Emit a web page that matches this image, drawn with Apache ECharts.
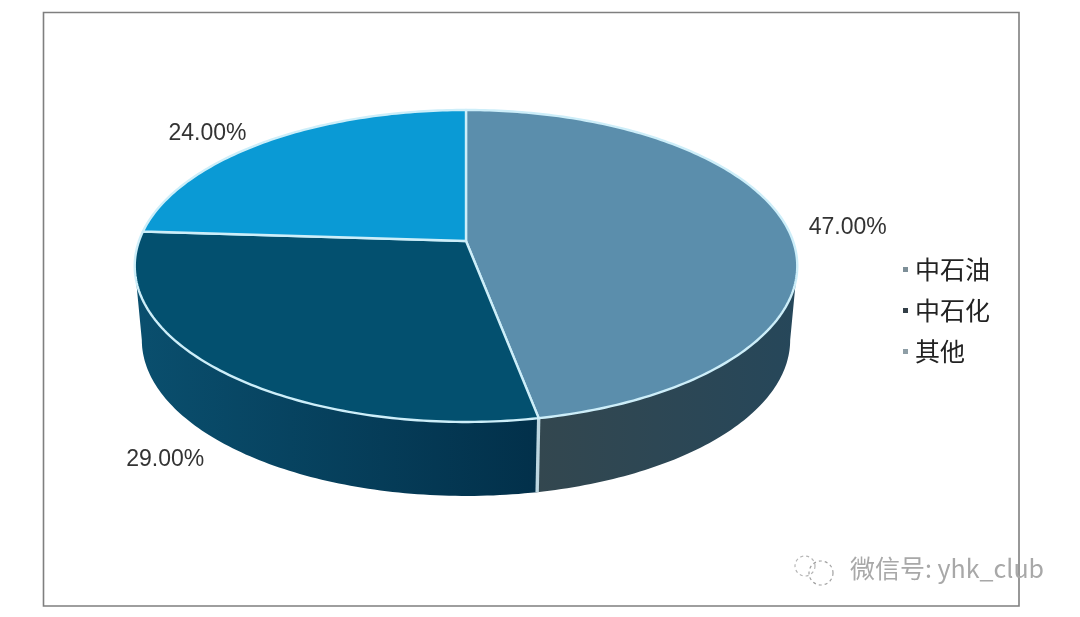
<!DOCTYPE html>
<html><head><meta charset="utf-8">
<style>html,body{margin:0;padding:0;background:#fff}#c{width:1080px;height:617px}</style>
<script src="https://cdn.jsdelivr.net/npm/echarts@6/dist/echarts.min.js"></script>
</head><body><div id="c"></div>
<script>
const categories = ['中石油', '中石化', '其他'];
const shares = [47, 29, 24];
const topColors = ['#5b8eac', '#03506f', '#0a9ad5'];
const wallLeftColors = ['#33474f', '#0a4f6e', '#0a4f6e'];
const wallRightColors = ['#26475a', '#02304a', '#02304a'];
const legendColors = ['#7d8f98', '#333f47', '#8e9ea6'];
const labelNudges = [[61, 1], [-55, 89], [-58, -8]];

const TOP = {cx: 466, cy: 241, rx: 327, ry: 152, p: 0.16};
const BASE = {cx: 466, cy: 315, rx: 320, ry: 152, p: 0.16};
const total = shares.reduce((a, b) => a + b, 0);
// Clock angles (from 12 o'clock) where the rim turns from the back of the disc to the front.
const frontStart = Math.PI - Math.acos(TOP.p);
const frontEnd = Math.PI + Math.acos(TOP.p);

function project(d, theta) {
  const x = Math.sin(theta), y = -Math.cos(theta), w = 1 - d.p * y;
  return [d.cx + d.rx * x / w, d.cy + d.ry * y / w];
}
function arc(d, a, b) {
  const n = Math.max(2, Math.ceil(Math.abs(b - a) * 60)), pts = [];
  for (let i = 0; i <= n; i++) pts.push(project(d, a + (b - a) * i / n));
  return pts;
}
function sliceRange(i) {
  let s = 0;
  for (let k = 0; k < i; k++) s += shares[k];
  return [s / total * 2 * Math.PI, (s + shares[i]) / total * 2 * Math.PI];
}
const RIM = '#cdeef9';
function renderSlice(i) {
  return function (params, api) {
    const [a, b] = sliceRange(i);
    const topArc = arc(TOP, a, b);
    const mid = project(TOP, (a + b) / 2);
    const children = [
      {type: 'polygon', z2: 10, shape: {points: [[TOP.cx, TOP.cy]].concat(topArc)},
       style: {fill: topColors[i], stroke: RIM, lineWidth: 2.4, lineJoin: 'round'}},
      {type: 'text', z2: 20, x: mid[0] + labelNudges[i][0], y: mid[1] + labelNudges[i][1],
       style: {text: api.value(0).toFixed(2) + '%', fill: '#333', font: '23px "Liberation Sans"', align: 'center', verticalAlign: 'middle'}}
    ];
    const wa = Math.max(a, frontStart), wb = Math.min(b, frontEnd);
    if (wb > wa) {
      children.push({type: 'polygon', z2: 1, shape: {points: arc(TOP, wa, wb).concat(arc(BASE, wa, wb).reverse())},
        style: {fill: {type: 'linear', x: 0, y: 0, x2: 1, y2: 0, colorStops: [
          {offset: 0, color: wallLeftColors[i]}, {offset: 1, color: wallRightColors[i]}]}, stroke: null}});
    }
    if (i === 0) {
      const t = project(TOP, b), u = project(BASE, b);
      children.push({type: 'line', z2: 9, shape: {x1: t[0], y1: t[1], x2: u[0], y2: u[1]},
        style: {stroke: '#bdd6e0', lineWidth: 3.4}});
    }
    return {type: 'group', children};
  };
}
const chart = echarts.init(document.getElementById('c'), null, {renderer: 'canvas'});
chart.setOption({
  animation: false,
  backgroundColor: '#ffffff',
  legend: {
    orient: 'vertical', left: 898, top: 252, itemWidth: 5, itemHeight: 5, itemGap: 16, icon: 'rect',
    textStyle: {fontFamily: '"Noto Sans CJK SC"', fontSize: 25, color: '#222', padding: [0, 0, 0, 2]},
    data: categories.map((name, i) => ({name, itemStyle: {color: legendColors[i]}}))
  },
  graphic: [
    {type: 'rect', silent: true, z: 0, shape: {x: 43.5, y: 12.5, width: 975.5, height: 593.5},
     style: {fill: 'none', stroke: '#7f7f7f', lineWidth: 1.6}},
    {type: 'text', silent: true, z: 5, x: 850, y: 568,
     style: {text: '微信号: yhk_club', fill: '#a8a8a8', font: '25px "Noto Sans CJK SC"', verticalAlign: 'middle'}},
    {type: 'circle', silent: true, z: 5, shape: {cx: 805, cy: 566, r: 10},
     style: {fill: 'none', stroke: '#b5b5b5', lineWidth: 1.2, lineDash: [3, 3]}},
    {type: 'circle', silent: true, z: 5, shape: {cx: 821, cy: 573, r: 12},
     style: {fill: 'none', stroke: '#a0a0a0', lineWidth: 1.2, lineDash: [3, 3]}}
  ],
  series: categories.map((name, i) => ({
    type: 'custom', name, coordinateSystem: 'none', silent: true,
    itemStyle: {color: topColors[i]},
    data: [[shares[i]]],
    renderItem: renderSlice(i)
  }))
});
</script></body></html>
